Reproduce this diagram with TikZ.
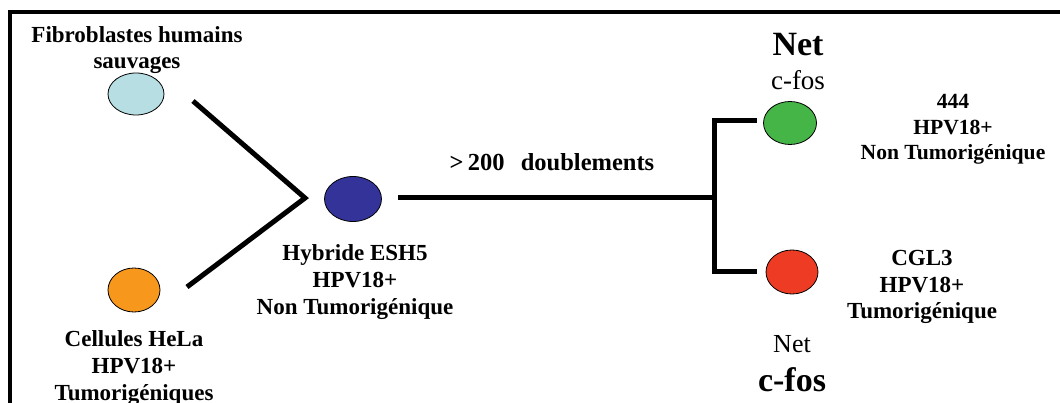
\documentclass[tikz,border=0pt]{standalone}
\usepackage{fontspec}
\setmainfont{Liberation Serif}
\usetikzlibrary{shapes.geometric}
\begin{document}
\begin{tikzpicture}[x=1pt,y=-1pt,
  cell/.style={ellipse, draw=black, line width=0.8pt, inner sep=0pt},
  lbl/.style={align=center, font=\bfseries\fontsize{23}{26.8}\selectfont, inner sep=0pt, anchor=base},
  link/.style={line width=5pt}]
\useasboundingbox (0,0) rectangle (1060,403);
\clip (0,0) rectangle (1060,403);
\draw[line width=4pt] (10,420) -- (10,12) -- (1070,12);
% cells
\node[cell, fill={rgb,255:red,183;green,223;blue,227}, minimum width=56pt, minimum height=42pt] (fib) at (136,94) {};
\node[cell, fill={rgb,255:red,247;green,152;blue,29}, minimum width=52pt, minimum height=44pt] (hela) at (134,290) {};
\node[cell, fill={rgb,255:red,51;green,51;blue,153}, minimum width=57pt, minimum height=45pt] (esh) at (353,199) {};
\node[cell, fill={rgb,255:red,70;green,181;blue,71}, minimum width=53pt, minimum height=43pt] (c444) at (790,123) {};
\node[cell, fill={rgb,255:red,238;green,59;blue,36}, minimum width=52pt, minimum height=44pt] (cgl) at (792,272) {};
% connectors
\coordinate (v) at (305,198);
\coordinate (a1) at (193,101);
\coordinate (a2) at (187,287);
\coordinate (j) at (714,198);
\coordinate (jt) at (714,121);
\coordinate (jb) at (714,272);
\coordinate (h0) at (398,198);
\coordinate (gt) at (757,121);
\coordinate (gb) at (757,272);
\draw[link] (a1) -- (v) -- (a2);
\draw[link] (h0) -- (j);
\draw[link] (gt) -- (jt) -- (jb) -- (gb);
% labels (anchor=base is the baseline of the last line)
\node[lbl] (tfib) at (137,69) {Fibroblastes humains\\sauvages};
\node[lbl] (thela) at (134,400) {Cellules HeLa\\HPV18+\\Tumorigéniques};
\node[lbl] (tesh) at (355,314) {Hybride ESH5\\HPV18+\\Non Tumorigénique};
\node[lbl, font=\bfseries\fontsize{21.6}{25.5}\selectfont] (t444) at (953,160) {444\\HPV18+\\Non Tumorigénique};
\node[lbl] (tcgl) at (922,319) {CGL3\\HPV18+\\Tumorigénique};
\node[lbl, font=\bfseries\fontsize{24.5}{26}\selectfont] (tdbl) at (552,171) {>\,200\ \ \,doublements};
\node[anchor=base, inner sep=0pt, font=\bfseries\fontsize{34}{34}\selectfont] (net1) at (798,56) {Net};
\node[anchor=base, inner sep=0pt, font=\fontsize{27}{27}\selectfont] (fos1) at (798,90) {c-fos};
\node[anchor=base, inner sep=0pt, font=\fontsize{26}{26}\selectfont] (net2) at (792,352) {Net};
\node[anchor=base, inner sep=0pt, font=\bfseries\fontsize{34}{34}\selectfont] (fos2) at (792,391) {c-fos};
\end{tikzpicture}
\end{document}
